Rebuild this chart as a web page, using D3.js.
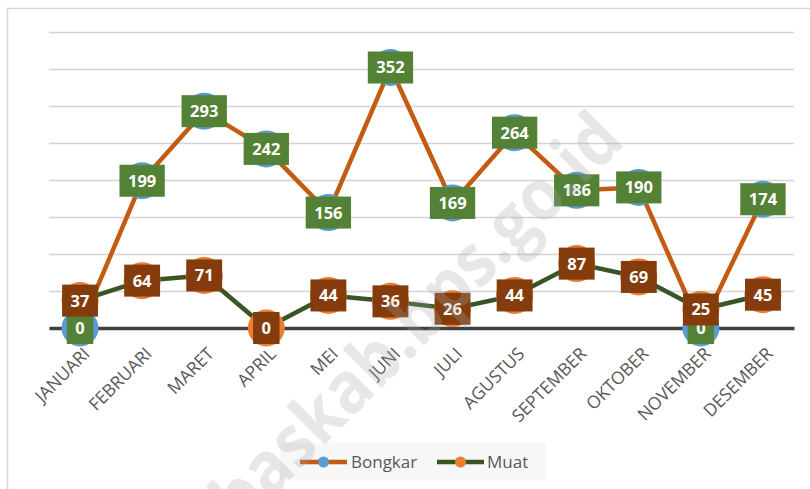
<!DOCTYPE html>
<html>
<head>
<meta charset="utf-8">
<script src="https://cdn.jsdelivr.net/npm/d3@7"></script>
<style>
  html, body { margin: 0; padding: 0; background: #ffffff; }
  svg { display: block; }
</style>
</head>
<body>
<svg id="chart" width="810" height="489"></svg>
<script>
// Monthly loading / unloading data
const months = ["JANUARI", "FEBRUARI", "MARET", "APRIL", "MEI", "JUNI", "JULI",
                "AGUSTUS", "SEPTEMBER", "OKTOBER", "NOVEMBER", "DESEMBER"];
const bongkar = [0, 199, 293, 242, 156, 352, 169, 264, 186, 190, 0, 174];
const muat = [37, 64, 71, 0, 44, 36, 26, 44, 87, 69, 25, 45];
const seriesNames = ["Bongkar", "Muat"];
const yTicks = [0, 50, 100, 150, 200, 250, 300, 350, 400];

const svg = d3.select("#chart");
const W = 810, H = 489;
const plot = { left: 49, right: 794, top: 32, bottom: 328 };

const x = d3.scaleBand().domain(months).range([plot.left, plot.right]);
const cx = m => x(m) + x.bandwidth() / 2;
const y = d3.scaleLinear().domain([0, 400]).range([plot.bottom, plot.top]);

const series = [
  { name: seriesNames[0], values: bongkar, line: "#c55a11", marker: "#5b9bd5", label: "#538135" },
  { name: seriesNames[1], values: muat, line: "#375623", marker: "#ed7d31", label: "#843c0c" }
];

// Chart frame (top and left edges)
svg.append("path")
  .attr("d", `M7.5,${H} L7.5,8.5 L${W},8.5`)
  .attr("fill", "none").attr("stroke", "#d9d9d9").attr("stroke-width", 1.5);

// Horizontal gridlines
const yAxis = d3.axisLeft(y).tickValues(yTicks).tickSize(-(plot.right - plot.left)).tickFormat("");
const gGrid = svg.append("g").attr("transform", `translate(${plot.left},0)`).call(yAxis);
gGrid.select(".domain").remove();
gGrid.selectAll(".tick line").attr("stroke", "#d4d4d4").attr("stroke-width", 1.4);

// Category axis
const xAxis = d3.axisBottom(x).tickSize(0).tickFormat(d => d);
const gX = svg.append("g").attr("transform", `translate(0,${plot.bottom})`).call(xAxis);
gX.select(".domain").attr("stroke", "#404040").attr("stroke-width", 3.5);
gX.selectAll(".tick text")
  .attr("font-family", "'Open Sans', sans-serif")
  .attr("font-size", 17.5)
  .attr("fill", "#595959")
  .attr("text-anchor", "end")
  .attr("x", 0).attr("y", 0).attr("dy", "0.72em")
  .attr("transform", `translate(2,18) rotate(-45)`);

// Lines and markers
const lineGen = d3.line().x((d, i) => cx(months[i])).y(d => y(d));
series.forEach(s => {
  svg.append("path")
    .datum(s.values)
    .attr("d", lineGen)
    .attr("fill", "none")
    .attr("stroke", s.line)
    .attr("stroke-width", 4.5)
    .attr("stroke-linejoin", "round");
  svg.append("g").selectAll("circle")
    .data(s.values).join("circle")
    .attr("cx", (d, i) => cx(months[i]))
    .attr("cy", d => y(d))
    .attr("r", 18.5)
    .attr("fill", s.marker);
});

// Data labels
series.forEach(s => {
  const g = svg.append("g").selectAll("g")
    .data(s.values).join("g")
    .attr("transform", (d, i) => `translate(${cx(months[i])},${y(d)})`);
  g.append("rect").attr("fill", s.label);
  const txt = g.append("text")
    .attr("text-anchor", "middle")
    .attr("dy", "0.36em")
    .attr("font-family", "'Open Sans', sans-serif")
    .attr("font-weight", 700)
    .attr("font-size", 16.5)
    .attr("fill", "#ffffff")
    .text(d => d);
  txt.each(function () {
    const w = this.getComputedTextLength() + 17;
    d3.select(this.parentNode).select("rect")
      .attr("x", -w / 2).attr("y", -16).attr("width", w).attr("height", 32);
  });
});

// Legend
const legend = svg.append("g");
legend.append("rect")
  .attr("x", 280).attr("y", 443).attr("width", 266).attr("height", 37)
  .attr("fill", "#f7f7f7");
const legendItems = [
  { s: series[0], x0: 300, tx: 351 },
  { s: series[1], x0: 437, tx: 487 }
];
legendItems.forEach(it => {
  legend.append("line")
    .attr("x1", it.x0).attr("x2", it.x0 + 47)
    .attr("y1", 462).attr("y2", 462)
    .attr("stroke", it.s.line).attr("stroke-width", 4.5);
  legend.append("circle")
    .attr("cx", it.x0 + 23.5).attr("cy", 462).attr("r", 5.5)
    .attr("fill", it.s.marker);
  legend.append("text")
    .attr("x", it.tx).attr("y", 462).attr("dy", "0.36em")
    .attr("font-family", "'Open Sans', sans-serif")
    .attr("font-size", 17)
    .attr("fill", "#595959")
    .text(it.s.name);
});

// Source watermark
svg.append("text")
  .attr("transform", "translate(421,323) rotate(-45)")
  .attr("text-anchor", "middle")
  .attr("dy", "0.25em")
  .attr("font-family", "'Open Sans', sans-serif")
  .attr("font-weight", 700)
  .attr("font-size", 72)
  .attr("textLength", 545)
  .attr("lengthAdjust", "spacingAndGlyphs")
  .attr("fill", "#a6a6a6")
  .attr("fill-opacity", 0.27)
  .text("baskab.bps.go.id");
</script>
</body>
</html>
